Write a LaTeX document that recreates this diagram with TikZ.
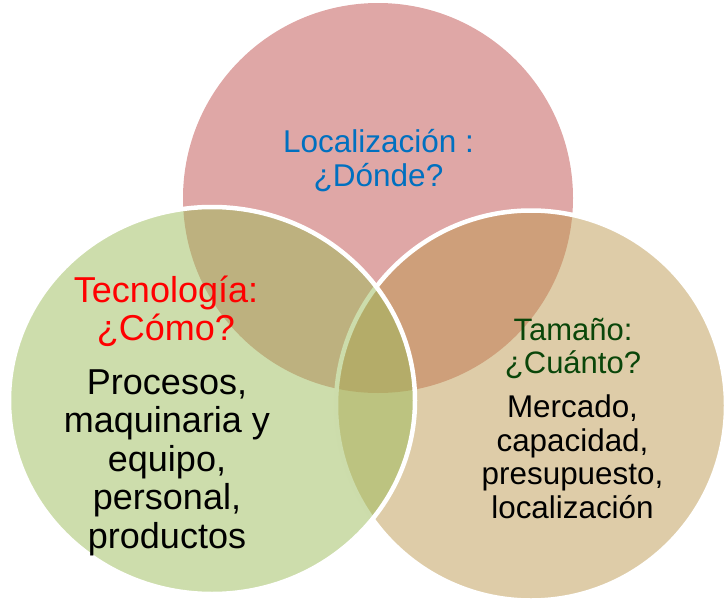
\documentclass[tikz,border=0pt]{standalone}
\usepackage{fontspec}
\setmainfont{Liberation Sans}

\definecolor{locfill}{HTML}{C0504D}
\definecolor{tecfill}{HTML}{9BBB59}
\definecolor{tamfill}{HTML}{BD9951}
\definecolor{loctext}{HTML}{0070C0}
\definecolor{tamtext}{RGB}{10,70,10}

\begin{document}
\begin{tikzpicture}[x=1pt,y=-1pt,
    venn/.style={fill opacity=0.5, draw=white, line width=4.5pt},
    vlabel/.style={align=center, inner sep=0pt, anchor=base}]

  \useasboundingbox (0,0) rectangle (725,605);

  % circles
  \fill[locfill, fill opacity=0.5] (378,198) circle (195);
  \filldraw[venn, fill=tamfill] (531,405.5) circle (195);
  \filldraw[venn, fill=tecfill] (212,400.5) ellipse (203 and 193.5);

  % localizacion (anchor = baseline of last line)
  \node[vlabel, text=loctext, font=\fontsize{31.5}{34}\selectfont] (loc) at (378.5,186)
    {Localización :\\¿Dónde?};

  % tecnologia
  \node[vlabel, text=red, font=\fontsize{36}{38}\selectfont] (tec) at (166,340)
    {Tecnología:\\¿Cómo?};
  \node[vlabel, font=\fontsize{36}{38.5}\selectfont] (tecitems) at (167,548)
    {Procesos,\\maquinaria y\\equipo,\\personal,\\productos};

  % tamano
  \node[vlabel, text=tamtext, font=\fontsize{31}{33}\selectfont] (tam) at (573,373)
    {Tamaño:\\¿Cuánto?};
  \node[vlabel, font=\fontsize{31.4}{33.5}\selectfont] (tamitems) at (572.5,518)
    {Mercado,\\capacidad,\\presupuesto,\\localización};

\end{tikzpicture}
\end{document}
